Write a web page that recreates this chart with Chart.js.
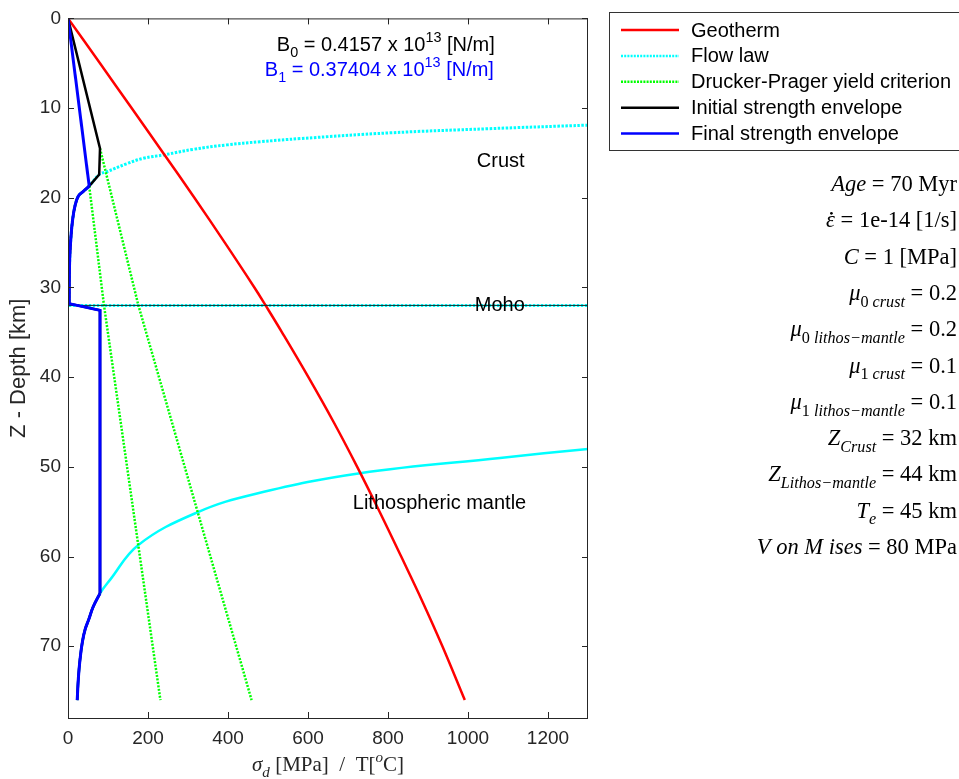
<!DOCTYPE html>
<html>
<head>
<meta charset="utf-8">
<title>Strength envelope</title>
<script src="https://cdn.jsdelivr.net/npm/chart.js@4.4.0/dist/chart.umd.min.js"></script>
<style>
  html, body { margin: 0; padding: 0; background: #fff; }
  canvas { display: block; }
</style>
</head>
<body>
<canvas id="envChart" width="959" height="779"></canvas>
<script>
// depths in km, stresses in MPa, temperature in degC

var xTicks = [0, 200, 400, 600, 800, 1000, 1200];
var yTicks = [0, 10, 20, 30, 40, 50, 60, 70];

// geotherm
var geoDepth = [0, 5, 10, 15, 20, 25, 30, 32, 35, 40, 45, 50, 55, 60, 65, 70, 76];
var geoTemp  = [0, 80, 159, 238, 316, 392, 466, 494, 535, 601, 664, 723, 779, 833, 886, 936, 992];

// flow law, crust
var flowCrustDepth  = [11.9, 12.3, 12.76, 13.4, 13.75, 14.1, 14.6, 15.2, 15.6, 16.2, 17.1, 17.4, 18.7, 19.3, 19.8, 20.9, 22.4, 24.3, 27.2, 32];
var flowCrustStress = [1300, 1050, 805, 580, 480, 397, 313, 242, 188, 147, 97, 78, 53, 38, 26, 17.5, 11.7, 7.5, 4, 2];

// flow law jump across the Moho
var mohoDepth = 32;
var mohoStress = [2, 1300];

// flow law, lithospheric mantle
var flowMantleDepth  = [48.0, 49.0, 50.7, 53.0, 55.1, 58.7, 62.6, 64.1, 65.6, 67.0, 68.1, 69.5, 71.5, 73.5, 76];
var flowMantleStress = [1300, 1080, 730, 470, 322, 176, 105, 80, 63, 52, 43, 36, 30, 26, 23];

// Drucker-Prager, mu0 and mu1
var dp0Depth  = [14.5, 32, 76];
var dp0Stress = [80, 176, 459];
var dp1Depth  = [18.7, 32, 76];
var dp1Stress = [53, 90, 231];

// initial envelope
var initDepth  = [0, 14.5, 17.4, 18.7, 19.3, 19.8, 20.9, 22.4, 24.3, 27.2, 31.8, 32.55, 64.1, 65.6, 67.0, 68.1, 69.5, 71.5, 73.5, 76];
var initStress = [0, 80, 78, 53, 38, 26, 17.5, 11.7, 7.5, 4, 3, 80, 80, 63, 52, 43, 36, 30, 26, 23];

// final envelope
var finalDepth  = [0, 18.7, 19.3, 19.8, 20.9, 22.4, 24.3, 27.2, 31.8, 32.55, 64.1, 65.6, 67.0, 68.1, 69.5, 71.5, 73.5, 76];
var finalStress = [0, 53, 38, 26, 17.5, 11.7, 7.5, 4, 3, 80, 80, 63, 52, 43, 36, 30, 26, 23];

function pts(xs, ys, from, to) {
  var out = [];
  from = from || 0;
  to = to === undefined ? xs.length - 1 : to;
  for (var i = from; i <= to; i++) out.push({ x: xs[i], y: ys[i] });
  return out;
}

var SANS = '"Liberation Sans", Arial, Helvetica, sans-serif';
var SERIF = '"Liberation Serif", "Times New Roman", serif';
var INK = '#262626';

function line(label, data, color, width, dash, order, tension) {
  return {
    label: label,
    data: data,
    showLine: true,
    borderColor: color,
    backgroundColor: color,
    borderWidth: width,
    borderDash: dash || [],
    pointRadius: 0,
    pointHoverRadius: 0,
    tension: tension || 0,
    order: order
  };
}

var DOT = [2.5, 1.5];
var datasets = [
  // straight pieces and curved pieces of the envelopes
  line('Final strength envelope', pts(finalStress, finalDepth, 0, 1), '#0000ff', 3, null, 0),
  line('final-crust', pts(finalStress, finalDepth, 1, 8), '#0000ff', 3, null, 0, 0.4),
  line('final-moho', pts(finalStress, finalDepth, 8, 10), '#0000ff', 3, null, 0),
  line('final-mantle', pts(finalStress, finalDepth, 10, 17), '#0000ff', 3, null, 0, 0.4),
  line('Initial strength envelope', pts(initStress, initDepth, 0, 3), '#000000', 2.5, null, 1),
  line('init-crust', pts(initStress, initDepth, 3, 10), '#000000', 2.5, null, 1, 0.4),
  line('init-moho', pts(initStress, initDepth, 10, 12), '#000000', 2.5, null, 1),
  line('init-mantle', pts(initStress, initDepth, 12, 19), '#000000', 2.5, null, 1, 0.4),
  line('Moho', pts(mohoStress, [mohoDepth, mohoDepth]), '#10302c', 1, null, 2),
  line('Geotherm', pts(geoTemp, geoDepth), '#ff0000', 2.5, null, 3, 0.4),
  line('Drucker-Prager yield criterion', pts(dp0Stress, dp0Depth), '#00ff00', 2.5, [2, 1.5], 4),
  line('dp-mu1', pts(dp1Stress, dp1Depth), '#00ff00', 2.5, [2, 1.5], 4),
  line('Flow law', pts(flowCrustStress, flowCrustDepth), '#00ffff', 3, DOT, 5, 0.4),
  line('flow-jump', pts(mohoStress, [mohoDepth, mohoDepth]), '#00ffff', 3, DOT, 5),
  line('flow-mantle', pts(flowMantleStress, flowMantleDepth), '#00ffff', 2.5, null, 5, 0.4)
];

var legendItems = [
  ['Geotherm', '#ff0000', []],
  ['Flow law', '#00ffff', [2, 1.2]],
  ['Drucker-Prager yield criterion', '#00ff00', [2, 1.2]],
  ['Initial strength envelope', '#000000', []],
  ['Final strength envelope', '#0000ff', []]
];

// parameter list: [text, italic, 'sub'|'sup'|0, 'dot']
var params = [
  [['Age', 1], [' = 70 Myr', 0]],
  [['\u03B5', 1, 0, 'dot'], [' = 1e-14 [1/s]', 0]],
  [['C', 1], [' = 1 [MPa]', 0]],
  [['\u03BC', 1], ['0 ', 0, 'sub'], ['crust', 1, 'sub'], [' = 0.2', 0]],
  [['\u03BC', 1], ['0 ', 0, 'sub'], ['lithos\u2212mantle', 1, 'sub'], [' = 0.2', 0]],
  [['\u03BC', 1], ['1 ', 0, 'sub'], ['crust', 1, 'sub'], [' = 0.1', 0]],
  [['\u03BC', 1], ['1 ', 0, 'sub'], ['lithos\u2212mantle', 1, 'sub'], [' = 0.1', 0]],
  [['Z', 1], ['Crust', 1, 'sub'], [' = 32 km', 0]],
  [['Z', 1], ['Lithos\u2212mantle', 1, 'sub'], [' = 44 km', 0]],
  [['T', 1], ['e', 1, 'sub'], [' = 45 km', 0]],
  [['V on M ises', 1], [' = 80 MPa', 0]]
];

function rich(ctx, segs, x, y, size, family, align) {
  var total = 0, widths = [];
  segs.forEach(function (s) {
    var fs = s[2] ? size * 0.72 : size;
    ctx.font = (s[1] ? 'italic ' : '') + fs + 'px ' + family;
    var w = ctx.measureText(s[0]).width;
    widths.push(w);
    total += w;
  });
  var cx = align === 'right' ? x - total : (align === 'center' ? x - total / 2 : x);
  ctx.textBaseline = 'alphabetic';
  ctx.textAlign = 'left';
  segs.forEach(function (s, i) {
    var fs = s[2] ? size * 0.72 : size;
    ctx.font = (s[1] ? 'italic ' : '') + fs + 'px ' + family;
    var dy = s[2] === 'sub' ? size * 0.3 : (s[2] === 'sup' ? -size * 0.42 : 0);
    ctx.fillText(s[0], cx, y + dy);
    if (s[3] === 'dot') {
      ctx.beginPath();
      ctx.arc(cx + widths[i] * 0.6, y - size * 0.62, size * 0.06, 0, Math.PI * 2);
      ctx.fill();
    }
    cx += widths[i];
  });
}

var framePlugin = {
  id: 'frame',
  afterDatasetsDraw: function (chart) {
    var ctx = chart.ctx, a = chart.chartArea;
    var xs = chart.scales.x, ys = chart.scales.y;
    ctx.save();

    // box and inward ticks
    ctx.strokeStyle = INK;
    ctx.lineWidth = 1;
    ctx.strokeRect(a.left + 0.5, a.top + 0.5, a.right - a.left - 1, a.bottom - a.top);
    ctx.beginPath();
    xTicks.forEach(function (v) {
      var px = Math.round(xs.getPixelForValue(v)) + 0.5;
      ctx.moveTo(px, a.bottom); ctx.lineTo(px, a.bottom - 6);
      ctx.moveTo(px, a.top); ctx.lineTo(px, a.top + 6);
    });
    yTicks.forEach(function (v) {
      var py = Math.round(ys.getPixelForValue(v)) + 0.5;
      ctx.moveTo(a.left, py); ctx.lineTo(a.left + 6, py);
      ctx.moveTo(a.right, py); ctx.lineTo(a.right - 6, py);
    });
    ctx.stroke();

    // labels inside the axes
    ctx.fillStyle = '#000';
    rich(ctx, [['B', 0], ['0', 0, 'sub'], [' = 0.4157 x 10', 0], ['13', 0, 'sup'], [' [N/m]', 0]],
      xs.getPixelForValue(522), ys.getPixelForValue(3.6), 20, SANS, 'left');
    ctx.fillStyle = '#0000ff';
    rich(ctx, [['B', 0], ['1', 0, 'sub'], [' = 0.37404 x 10', 0], ['13', 0, 'sup'], [' [N/m]', 0]],
      xs.getPixelForValue(492), ys.getPixelForValue(6.4), 20, SANS, 'left');
    ctx.fillStyle = '#000';
    ctx.font = '20px ' + SANS;
    ctx.textBaseline = 'middle';
    ctx.textAlign = 'left';
    ctx.fillText('Crust', xs.getPixelForValue(1022), ys.getPixelForValue(15.9));
    ctx.fillText('Moho', xs.getPixelForValue(1017), ys.getPixelForValue(32));
    ctx.fillText('Lithospheric mantle', xs.getPixelForValue(712), ys.getPixelForValue(54.1));

    // axis titles
    ctx.fillStyle = INK;
    rich(ctx, [['\u03C3', 1], ['d', 1, 'sub'], [' [MPa]  /  T[', 0], ['o', 1, 'sup'], ['C]', 0]],
      (a.left + a.right) / 2, 771, 21, SERIF, 'center');
    ctx.save();
    ctx.translate(25, (a.top + a.bottom) / 2);
    ctx.rotate(-Math.PI / 2);
    ctx.font = '22px ' + SANS;
    ctx.textAlign = 'center';
    ctx.textBaseline = 'alphabetic';
    ctx.fillText('Z - Depth [km]', 0, 0);
    ctx.restore();

    // legend
    ctx.fillStyle = '#fff';
    ctx.fillRect(609, 12, 360, 138);
    ctx.strokeStyle = '#333';
    ctx.lineWidth = 1;
    ctx.strokeRect(609.5, 12.5, 360, 138);
    legendItems.forEach(function (it, i) {
      var y = 30 + i * 25.9;
      ctx.strokeStyle = it[1];
      ctx.lineWidth = 2.5;
      ctx.setLineDash(it[2]);
      ctx.beginPath();
      ctx.moveTo(621, y); ctx.lineTo(679, y);
      ctx.stroke();
      ctx.setLineDash([]);
      ctx.fillStyle = '#000';
      ctx.font = '20px ' + SANS;
      ctx.textAlign = 'left';
      ctx.textBaseline = 'middle';
      ctx.fillText(it[0], 691, y + 1);
    });

    // parameter list
    ctx.fillStyle = '#000';
    params.forEach(function (p, i) {
      rich(ctx, p, 957, 191 + i * 36.3, 22.5, SERIF, 'right');
    });

    ctx.restore();
  }
};

var ctx = document.getElementById('envChart');
var chart = new Chart(ctx, {
  type: 'scatter',
  data: { datasets: datasets },
  options: {
    responsive: false,
    animation: false,
    devicePixelRatio: 1,
    layout: { padding: { top: 14, left: 0, right: 371, bottom: 0 } },
    plugins: {
      legend: { display: false },
      tooltip: { enabled: false }
    },
    scales: {
      x: {
        type: 'linear',
        min: 0,
        max: 1300,
        afterBuildTicks: function (s) { s.ticks = xTicks.map(function (v) { return { value: v }; }); },
        afterFit: function (s) { s.height = 61; },
        grid: { display: false, drawTicks: false },
        border: { display: false },
        ticks: { color: INK, padding: 9, font: { family: SANS, size: 19 }, callback: function (v) { return String(v); } }
      },
      y: {
        type: 'linear',
        reverse: true,
        min: 0,
        max: 78,
        afterBuildTicks: function (s) { s.ticks = yTicks.map(function (v) { return { value: v }; }); },
        afterFit: function (s) { s.width = 68; },
        grid: { display: false, drawTicks: false },
        border: { display: false },
        ticks: { color: INK, padding: 7, font: { family: SANS, size: 19 }, callback: function (v) { return String(v); } }
      }
    }
  },
  plugins: [framePlugin]
});
</script>
</body>
</html>
